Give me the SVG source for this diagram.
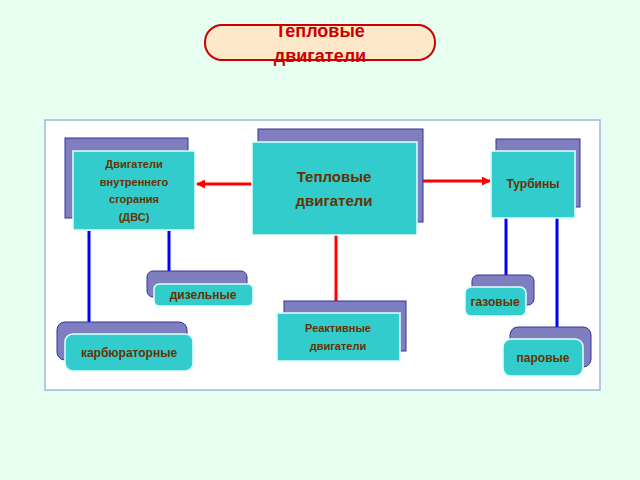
<svg xmlns="http://www.w3.org/2000/svg" width="640" height="480" viewBox="0 0 640 480">
<defs>
<style>
.sh{fill:#7f7fbf;stroke:#333399;stroke-width:1}
.fr{fill:#33cccc;stroke:#e0ffff;stroke-width:1.5}
.t{font-family:"Liberation Sans",Arial,sans-serif;font-weight:bold;fill:#663300;text-anchor:middle}
.r{stroke:#ff0000;stroke-width:3;fill:none}
.b{stroke:#0000ff;stroke-width:3;fill:none}
</style>
<marker id="ar" viewBox="0 0 10 10" refX="9" refY="5" markerWidth="3" markerHeight="3" orient="auto"><path d="M0,0L10,5L0,10z" fill="#ff0000"/></marker>
<marker id="ab" viewBox="0 0 10 10" refX="9" refY="5" markerWidth="3" markerHeight="3" orient="auto"><path d="M0,0L10,5L0,10z" fill="#0000ff"/></marker>
</defs>
<rect width="640" height="480" fill="#e6fff0"/>
<g id="title">
<rect x="205" y="25" width="230" height="35" rx="17" fill="#fde9c9" stroke="#cc0000" stroke-width="2"/>
<text x="320" y="37" font-family="Liberation Sans,Arial,sans-serif" font-weight="bold" font-size="18" fill="#cc0000" text-anchor="middle">Тепловые</text>
<text x="320" y="62" font-family="Liberation Sans,Arial,sans-serif" font-weight="bold" font-size="18" fill="#cc0000" text-anchor="middle">двигатели</text>
</g>
<rect x="45" y="120" width="555" height="270" fill="#ffffff" stroke="#99bbdd" stroke-width="1.5"/>
<g id="connectors">
<line class="r" x1="252" y1="184" x2="197" y2="184" marker-end="url(#ar)"/>
<line class="r" x1="417" y1="181" x2="490" y2="181" marker-end="url(#ar)"/>
<line class="r" x1="336" y1="235" x2="336" y2="311" marker-end="url(#ar)"/>
<line class="b" x1="89" y1="231" x2="89" y2="334" marker-end="url(#ab)"/>
<line class="b" x1="169" y1="231" x2="169" y2="284" marker-end="url(#ab)"/>
<line class="b" x1="506" y1="218" x2="506" y2="287" marker-end="url(#ab)"/>
<line class="b" x1="557" y1="218" x2="557" y2="339" marker-end="url(#ab)"/>
</g>
<g id="dvs">
<rect class="sh" x="65" y="138" width="123" height="80"/>
<rect class="fr" x="73" y="151" width="122" height="79"/>
<text class="t" font-size="11"><tspan x="134" y="168">Двигатели</tspan><tspan x="134" y="186">внутреннего</tspan><tspan x="134" y="203">сгорания</tspan><tspan x="134" y="221">(ДВС)</tspan></text>
</g>
<g id="main">
<rect class="sh" x="258" y="129" width="165" height="93"/>
<rect class="fr" x="252" y="142" width="165" height="93"/>
<text class="t" font-size="15"><tspan x="334" y="182">Тепловые</tspan><tspan x="334" y="206">двигатели</tspan></text>
</g>
<g id="turb">
<rect class="sh" x="496" y="139" width="84" height="68"/>
<rect class="fr" x="491" y="151" width="84" height="67"/>
<text class="t" font-size="12" x="533" y="188">Турбины</text>
</g>
<g id="diesel">
<rect class="sh" x="147" y="271" width="100" height="26" rx="6"/>
<rect class="fr" x="154" y="284" width="99" height="22" rx="5"/>
<text class="t" font-size="12" x="203" y="299">дизельные</text>
</g>
<g id="carb">
<rect class="sh" x="57" y="322" width="130" height="38" rx="8"/>
<rect class="fr" x="65" y="334" width="128" height="37" rx="8"/>
<text class="t" font-size="12" x="129" y="357">карбюраторные</text>
</g>
<g id="jet">
<rect class="sh" x="284" y="301" width="122" height="50"/>
<rect class="fr" x="277" y="313" width="123" height="48"/>
<text class="t" font-size="11"><tspan x="338" y="332">Реактивные</tspan><tspan x="338" y="350">двигатели</tspan></text>
</g>
<g id="gas">
<rect class="sh" x="472" y="275" width="62" height="30" rx="6"/>
<rect class="fr" x="465" y="287" width="61" height="29" rx="6"/>
<text class="t" font-size="12" x="495" y="306">газовые</text>
</g>
<g id="steam">
<rect class="sh" x="510" y="327" width="81" height="40" rx="8"/>
<rect class="fr" x="503" y="339" width="80" height="37" rx="8"/>
<text class="t" font-size="12" x="543" y="362">паровые</text>
</g>
</svg>
